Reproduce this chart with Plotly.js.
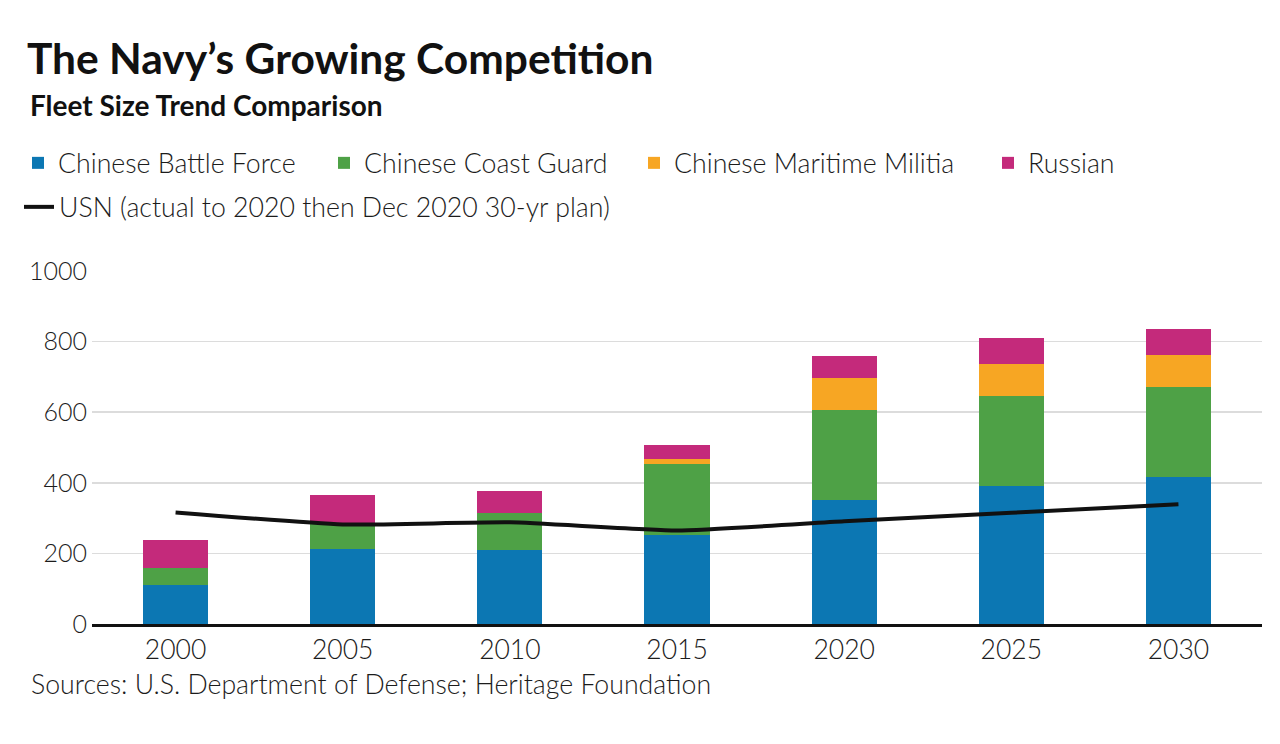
<!DOCTYPE html>
<html>
<head>
<meta charset="utf-8">
<script src="https://cdn.plot.ly/plotly-3.0.1.min.js"></script>
<style>
  html, body { margin: 0; padding: 0; background: #ffffff; }
  #chart { width: 1280px; height: 744px; }
</style>
</head>
<body>
<div id="chart"></div>
<script>
// ---- Data ----
const years = ["2000", "2005", "2010", "2015", "2020", "2025", "2030"];
const chineseBattleForce = [110, 212, 210, 252, 351, 391, 416];
const chineseCoastGuard = [50, 73, 105, 201, 255, 255, 255];
const chineseMaritimeMilitia = [0, 0, 0, 14, 92, 91, 91];
const russian = [77, 80, 61, 39, 62, 74, 74];
const usn = [316, 282, 288, 265, 291, 315, 339];
const yTicks = [0, 200, 400, 600, 800, 1000];

const FONT = "Lato, 'Open Sans', sans-serif";
const TXT = "#1c1c1c";
const W = 1280, H = 744;

function barTrace(name, values, color, legendId) {
  return {
    type: "bar",
    name: name,
    x: years,
    y: values,
    marker: { color: color, line: { width: 0 } },
    legend: legendId,
    hoverinfo: "skip"
  };
}

const traces = [
  barTrace("Chinese Battle Force", chineseBattleForce, "#0c77b3", "legend"),
  barTrace("Chinese Coast Guard", chineseCoastGuard, "#4ea146", "legend2"),
  barTrace("Chinese Maritime Militia", chineseMaritimeMilitia, "#f7a623", "legend3"),
  barTrace("Russian", russian, "#c42a7b", "legend4"),
  {
    type: "scatter",
    mode: "lines",
    name: "USN (actual to 2020 then Dec 2020 30-yr plan)",
    x: years,
    y: usn,
    line: { color: "#111111", width: 4, shape: "spline", smoothing: 0.5 },
    legend: "legend5",
    hoverinfo: "skip"
  }
];

function legendAt(px, py) {
  return {
    xref: "container", yref: "container",
    x: px / W, y: 1 - py / H,
    xanchor: "left", yanchor: "middle",
    orientation: "h",
    bgcolor: "rgba(0,0,0,0)",
    borderwidth: 0,
    font: { family: FONT, size: 26.7, color: TXT, weight: 300 }
  };
}

const layout = {
  width: W,
  height: H,
  paper_bgcolor: "#ffffff",
  plot_bgcolor: "#ffffff",
  margin: { l: 92, r: 18, t: 271, b: 120 },
  barmode: "stack",
  bargap: 0.61,
  font: { family: FONT, size: 26, color: TXT },
  title: {
    text: "<b>The Navy’s Growing Competition</b>",
    font: { family: FONT, size: 42.5, color: "#111111" },
    xref: "container", yref: "container",
    x: 27 / W, xanchor: "left",
    y: 1 - 59 / H, yanchor: "middle"
  },
  showlegend: true,
  legend: legendAt(18, 163),
  legend2: legendAt(324, 163),
  legend3: legendAt(634, 163),
  legend4: legendAt(988, 163),
  legend5: legendAt(19, 207),
  xaxis: {
    type: "category",
    categoryorder: "array",
    categoryarray: years,
    showgrid: false,
    zeroline: false,
    showline: true,
    linecolor: "#111111",
    linewidth: 2.5,
    layer: "above traces",
    ticks: "",
    ticklabelstandoff: 1,
    tickfont: { family: FONT, size: 26.5, color: TXT, weight: 300 },
    fixedrange: true
  },
  yaxis: {
    range: [0, 1000],
    tickvals: yTicks,
    ticktext: yTicks.map(String),
    showgrid: true,
    gridcolor: "#dcdcdc",
    gridwidth: 1.5,
    zeroline: false,
    showline: false,
    ticks: "",
    ticklabelstandoff: 4,
    tickfont: { family: FONT, size: 25, color: TXT, weight: 300 },
    fixedrange: true
  },
  annotations: [
    {
      text: "<b>Fleet Size Trend Comparison</b>",
      xref: "paper", yref: "paper",
      x: (28 - 92) / 1170, y: (624 - 105) / 353,
      xanchor: "left", yanchor: "middle",
      showarrow: false,
      font: { family: FONT, size: 28, color: "#111111" }
    },
    {
      text: "Sources: U.S. Department of Defense; Heritage Foundation",
      xref: "paper", yref: "paper",
      x: (29 - 92) / 1170, y: (624 - 684) / 353,
      xanchor: "left", yanchor: "middle",
      showarrow: false,
      font: { family: FONT, size: 26.7, color: TXT, weight: 300 }
    }
  ]
};

Plotly.newPlot("chart", traces, layout, { staticPlot: true, displayModeBar: false });
</script>
</body>
</html>
